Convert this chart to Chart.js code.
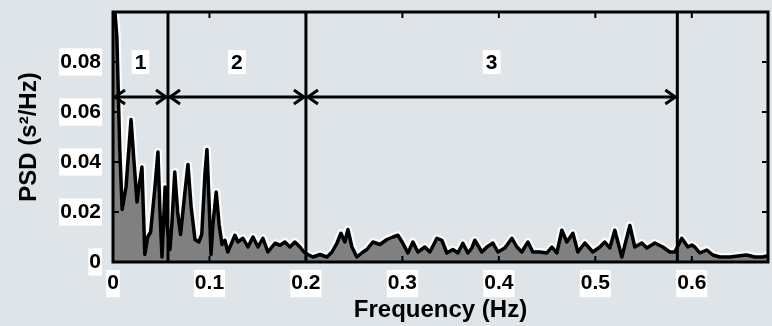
<!DOCTYPE html>
<html>
<head>
<meta charset="utf-8">
<script src="https://cdn.jsdelivr.net/npm/chart.js@4/dist/chart.umd.min.js"></script>
<style>
  html, body { margin: 0; padding: 0; background: #dfe4e8; }
  #wrap { width: 772px; height: 326px; }
</style>
</head>
<body>
<div id="wrap"><canvas id="c" width="772" height="326"></canvas></div>
<script>
// Power spectral density of the RR series
const freq = [
  0.000, 0.004, 0.007, 0.0095, 0.0135, 0.0187, 0.0218, 0.0249, 0.027, 0.030,
  0.033, 0.036, 0.039, 0.0435, 0.0466, 0.0487, 0.0508, 0.054, 0.056, 0.059,
  0.061, 0.064, 0.067, 0.070, 0.0746, 0.0777, 0.081, 0.085, 0.089, 0.092,
  0.0953, 0.0974, 0.0995, 0.1016, 0.1036, 0.107, 0.110, 0.113, 0.116, 0.119,
  0.1264, 0.1295, 0.1347, 0.1399, 0.1451, 0.1503, 0.1554, 0.1606, 0.1679, 0.1731,
  0.1782, 0.1834, 0.1886, 0.1938, 0.198, 0.202, 0.2073, 0.2145, 0.2218, 0.227,
  0.2321, 0.2363, 0.2404, 0.2435, 0.2477, 0.2528, 0.2591, 0.2632, 0.2694, 0.2767,
  0.2839, 0.2902, 0.2953, 0.3005, 0.3057, 0.3109, 0.3161, 0.3233, 0.3285, 0.3358,
  0.3409, 0.3461, 0.3523, 0.3575, 0.3627, 0.3679, 0.372, 0.3751, 0.3824, 0.3876,
  0.3938, 0.399, 0.4062, 0.4135, 0.4187, 0.4238, 0.4301, 0.4352, 0.4425, 0.4497,
  0.4549, 0.4601, 0.4653, 0.4705, 0.4767, 0.4819, 0.4891, 0.4974, 0.5047, 0.5098,
  0.515, 0.5202, 0.5275, 0.5358, 0.5409, 0.5482, 0.5534, 0.5617, 0.5699, 0.5772,
  0.5824, 0.5896, 0.5959, 0.6, 0.6031, 0.6083, 0.6155, 0.6218, 0.629, 0.6394,
  0.6497, 0.657, 0.6653, 0.6736, 0.679
];
const psd = [
  0.110, 0.090, 0.045, 0.021, 0.030, 0.057, 0.040, 0.024, 0.030, 0.038,
  0.003, 0.010, 0.012, 0.030, 0.044, 0.020, 0.002, 0.030, 0.015, 0.005,
  0.015, 0.036, 0.020, 0.011, 0.028, 0.039, 0.022, 0.009, 0.008, 0.011,
  0.035, 0.045, 0.025, 0.003, 0.015, 0.028, 0.015, 0.007, 0.0087, 0.004,
  0.0107, 0.008, 0.0095, 0.006, 0.010, 0.006, 0.0095, 0.004, 0.0075, 0.0067,
  0.008, 0.006, 0.008, 0.006, 0.004, 0.003, 0.002, 0.003, 0.002, 0.004,
  0.0075, 0.0115, 0.008, 0.013, 0.006, 0.002, 0.004, 0.005, 0.008, 0.007,
  0.009, 0.010, 0.0107, 0.0075, 0.0036, 0.008, 0.004, 0.006, 0.004, 0.0095,
  0.0087, 0.0036, 0.005, 0.0036, 0.0075, 0.0036, 0.0056, 0.0087, 0.004, 0.006,
  0.0076, 0.004, 0.0056, 0.0095, 0.006, 0.004, 0.008, 0.004, 0.004, 0.0036,
  0.006, 0.0036, 0.0127, 0.008, 0.0115, 0.004, 0.0076, 0.004, 0.006, 0.008,
  0.0056, 0.0127, 0.002, 0.0146, 0.006, 0.0076, 0.0056, 0.0076, 0.006, 0.004,
  0.004, 0.0095, 0.006, 0.0068, 0.006, 0.0036, 0.0048, 0.0028, 0.002, 0.002,
  0.0025, 0.0028, 0.002, 0.002, 0.0025
];

// Axis ticks
const xTicks = [0, 0.1, 0.2, 0.3, 0.4, 0.5, 0.6];
const yTicks = [0, 0.02, 0.04, 0.06, 0.08];

// Frequency bands: boundaries, labels, and the levels where arrows / labels sit
const bandEdges = [0, 0.057, 0.2, 0.585];
const bandLabels = ['1', '2', '3'];
const arrowLevel = 0.066;
const bandLabelLevel = 0.080;

const FONT = '"Liberation Sans", Arial, Helvetica, sans-serif';

const points = freq.map((f, i) => ({ x: f, y: psd[i] }));

const fmt = (v, d) => (v === 0 ? '0' : v.toFixed(d));

// Box frame, inward ticks, band separators and arrows
const bandPlugin = {
  id: 'bands',
  afterDatasetsDraw(chart) {
    const { ctx, chartArea: a, scales: { x, y } } = chart;
    ctx.save();
    ctx.strokeStyle = '#000';
    ctx.lineCap = 'butt';

    // inward tick marks on all four sides
    ctx.lineWidth = 2;
    const tl = 6;
    xTicks.forEach(v => {
      const px = x.getPixelForValue(v);
      ctx.beginPath();
      ctx.moveTo(px, a.bottom); ctx.lineTo(px, a.bottom - tl);
      ctx.moveTo(px, a.top); ctx.lineTo(px, a.top + tl);
      ctx.stroke();
    });
    yTicks.forEach(v => {
      const py = y.getPixelForValue(v);
      ctx.beginPath();
      ctx.moveTo(a.left, py); ctx.lineTo(a.left + tl, py);
      ctx.moveTo(a.right, py); ctx.lineTo(a.right - tl, py);
      ctx.stroke();
    });

    // band separators
    ctx.lineWidth = 3;
    bandEdges.slice(1).forEach(v => {
      const px = x.getPixelForValue(v);
      ctx.beginPath();
      ctx.moveTo(px, a.top); ctx.lineTo(px, a.bottom);
      ctx.stroke();
    });

    // double-headed arrows and band numbers
    const ay = y.getPixelForValue(arrowLevel);
    const ly = y.getPixelForValue(bandLabelLevel);
    const hl = 10, hw = 7;
    ctx.font = 'bold 21px ' + FONT;
    ctx.textAlign = 'center';
    ctx.textBaseline = 'middle';
    for (let i = 0; i < bandLabels.length; i++) {
      const x0 = x.getPixelForValue(bandEdges[i]) + 2;
      const x1 = x.getPixelForValue(bandEdges[i + 1]) - 2;
      ctx.lineWidth = 3;
      ctx.beginPath();
      ctx.moveTo(x0, ay); ctx.lineTo(x1, ay);
      ctx.stroke();
      ctx.beginPath();
      ctx.moveTo(x0 + hl, ay - hw); ctx.lineTo(x0, ay); ctx.lineTo(x0 + hl, ay + hw);
      ctx.moveTo(x1 - hl, ay - hw); ctx.lineTo(x1, ay); ctx.lineTo(x1 - hl, ay + hw);
      ctx.stroke();

      const cx = (x.getPixelForValue(bandEdges[i]) + x.getPixelForValue(bandEdges[i + 1])) / 2;
      const w = ctx.measureText(bandLabels[i]).width;
      ctx.fillStyle = '#fff';
      ctx.fillRect(cx - w / 2 - 3, ly - 12, w + 6, 24);
      ctx.fillStyle = '#000';
      ctx.fillText(bandLabels[i], cx, ly + 1);
    }

    // axes box
    ctx.lineWidth = 3;
    ctx.strokeRect(a.left, a.top, a.right - a.left, a.bottom - a.top);
    ctx.restore();
  }
};

new Chart(document.getElementById('c'), {
  type: 'line',
  data: {
    datasets: [
      {
        data: points,
        borderColor: '#000',
        borderWidth: 3.5,
        borderJoinStyle: 'round',
        backgroundColor: '#808080',
        fill: 'origin',
        pointRadius: 0,
        tension: 0
      },
      {
        data: points,
        borderColor: 'rgba(255,255,255,0.85)',
        borderWidth: 8,
        borderJoinStyle: 'round',
        fill: false,
        pointRadius: 0,
        tension: 0
      }
    ]
  },
  options: {
    responsive: false,
    animation: false,
    events: [],
    layout: { padding: { left: 0, right: 4, top: 12, bottom: 0 } },
    plugins: { legend: { display: false }, tooltip: { enabled: false } },
    scales: {
      x: {
        type: 'linear',
        min: 0,
        max: 0.679,
        afterBuildTicks: s => { s.ticks = xTicks.map(v => ({ value: v })); },
        afterFit: s => { s.height = 64; s.paddingLeft = 0; s.paddingRight = 0; },
        grid: { display: false, drawTicks: false },
        border: { display: false },
        ticks: {
          padding: 9,
          color: '#000',
          font: { family: FONT, size: 21, weight: 'bold' },
          maxRotation: 0,
          showLabelBackdrop: true,
          backdropColor: '#fff',
          backdropPadding: 1,
          callback: v => fmt(v, 1)
        },
        title: {
          display: true,
          text: 'Frequency (Hz)',
          color: '#000',
          font: { family: FONT, size: 24, weight: 'bold' },
          padding: { top: 0, bottom: 1 }
        }
      },
      y: {
        min: 0,
        max: 0.1,
        afterBuildTicks: s => { s.ticks = yTicks.map(v => ({ value: v })); },
        afterFit: s => { s.width = 113; s.paddingTop = 0; s.paddingBottom = 0; },
        grid: { display: false, drawTicks: false },
        border: { display: false },
        ticks: {
          padding: 12,
          color: '#000',
          font: { family: FONT, size: 21, weight: 'bold' },
          showLabelBackdrop: true,
          backdropColor: '#fff',
          backdropPadding: 1,
          callback: v => fmt(v, 2)
        },
        title: {
          display: true,
          text: 'PSD (s²/Hz)',
          color: '#000',
          font: { family: FONT, size: 24, weight: 'bold' },
          padding: { top: 15, bottom: 0 }
        }
      }
    }
  },
  plugins: [bandPlugin]
});
</script>
</body>
</html>
